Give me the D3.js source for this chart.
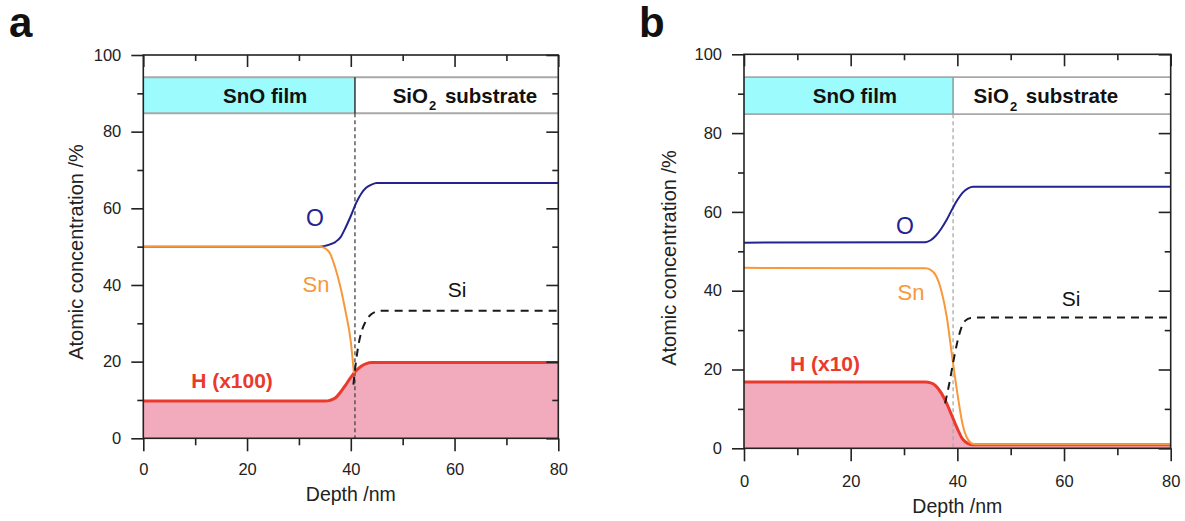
<!DOCTYPE html>
<html>
<head>
<meta charset="utf-8">
<script src="https://cdn.jsdelivr.net/npm/d3@7"></script>
<style>
  html, body { margin: 0; padding: 0; background: #fff; }
  svg { display: block; font-family: "Liberation Sans", Arial, sans-serif; }
</style>
</head>
<body>
<svg id="chart" width="1185" height="521"></svg>
<script>
// ---------------- DATA ----------------
const xTicksMajor = [0, 20, 40, 60, 80];
const xTicksMinor = [10, 30, 50, 70];
const yTicksMajor = [0, 20, 40, 60, 80, 100];
const yTicksMinor = [10, 30, 50, 70, 90];
const bandLabels = ["SnO film", "SiO", "2", " substrate"];
const xTitle = "Depth /nm";
const yTitle = "Atomic concentration /%";

// Panel a
const aInterface = 40.8;
const aO_depth  = [0, 34, 35, 36, 37, 38, 39, 40, 41, 42, 43, 44, 45, 80];
const aO_val    = [50, 50, 50.2, 50.6, 51.2, 52.4, 55, 58, 61.3, 63.8, 65.4, 66.2, 66.6, 66.6];
const aSn_depth = [0, 34, 35, 36, 37, 38, 39, 40, 40.6];
const aSn_val   = [50, 50, 49.6, 48.2, 44.5, 39.5, 33, 25.2, 17];
const aSi_depth = [40.5, 41, 41.5, 42, 43, 44, 45, 46, 80];
const aSi_val   = [14, 20, 24.5, 27.5, 30.8, 32.4, 33.1, 33.3, 33.3];
const aH_depth  = [0, 35, 36, 37, 38, 39, 40, 41, 42, 43, 44, 80];
const aH_val    = [9.7, 9.7, 9.9, 10.5, 12, 13.9, 15.9, 17.6, 18.8, 19.5, 19.8, 19.8];
const aHLabel = "H (x100)";

// Panel b
const bInterface = 39.2;
const bO_depth  = [0, 34, 35, 36, 37, 38, 39, 40, 41, 42, 43, 80];
const bO_val    = [52.2, 52.3, 52.8, 54, 55.8, 58, 60.6, 63, 64.9, 66, 66.4, 66.4];
const bSn_depth = [0, 34, 35, 36, 37, 38, 39, 40, 41, 42, 43, 44, 80];
const bSn_val   = [45.8, 45.7, 45.3, 43.8, 40, 33.5, 23.5, 14, 6, 2.2, 1.1, 1, 1];
const bSi_depth = [37.7, 38.5, 39.3, 40, 40.6, 41.5, 42.5, 44, 80];
const bSi_val   = [11.4, 16.5, 22.4, 27, 30, 32.4, 33.1, 33.2, 33.2];
const bH_depth  = [0, 34, 35, 36, 37, 38, 39, 40, 41, 42, 43, 80];
const bH_val    = [16.8, 16.8, 16.6, 15.8, 14, 11.4, 8.2, 5, 2.3, 1.2, 0.9, 0.9];
const bHLabel = "H (x10)";

// ---------------- DRAW ----------------
const svg = d3.select("#chart");
const zip = (xs, ys) => xs.map((x, i) => ({x, y: ys[i]}));

function panel(cfg) {
  const x = d3.scaleLinear().domain([0, 80]).range([cfg.left, cfg.right]);
  const y = d3.scaleLinear().domain([0, 100]).range([cfg.bottom, cfg.top]);
  const g = svg.append("g");
  const line = d3.line().x(d => x(d.x)).y(d => y(d.y)).curve(d3.curveMonotoneX);
  const area = d3.area().x(d => x(d.x)).y0(y(0)).y1(d => y(d.y)).curve(d3.curveMonotoneX);

  // band
  g.append("rect").attr("x", x(0)).attr("y", y(94.2))
    .attr("width", x(cfg.iface) - x(0)).attr("height", y(84.8) - y(94.2))
    .attr("fill", "#9cfbfd");
  g.append("line").attr("x1", x(0)).attr("x2", x(80)).attr("y1", y(94.2)).attr("y2", y(94.2))
    .attr("stroke", "#a8a8a8").attr("stroke-width", 1.8);
  g.append("line").attr("x1", x(0)).attr("x2", x(80)).attr("y1", y(84.8)).attr("y2", y(84.8))
    .attr("stroke", "#a8a8a8").attr("stroke-width", 1.8);
  g.append("line").attr("x1", x(cfg.iface)).attr("x2", x(cfg.iface)).attr("y1", y(94.2)).attr("y2", y(84.8))
    .attr("stroke", cfg.divColor).attr("stroke-width", 1.5);
  g.append("text").attr("x", x(cfg.filmX)).attr("y", y(89.5)).attr("dy", "0.36em")
    .attr("text-anchor", "middle").attr("font-weight", "bold").attr("font-size", 20.5)
    .attr("fill", "#111").text(bandLabels[0]);
  const st = g.append("text").attr("x", x(cfg.subX)).attr("y", y(89.5)).attr("dy", "0.36em")
    .attr("text-anchor", "middle").attr("font-weight", "bold").attr("font-size", 20.5).attr("fill", "#111");
  st.append("tspan").text(bandLabels[1]);
  st.append("tspan").attr("font-size", 13).attr("dx", 1).attr("dy", "0.6em").text(bandLabels[2]);
  st.append("tspan").attr("dx", 3).attr("dy", "-0.38em").text(bandLabels[3]);

  // H fill
  const hData = zip(cfg.H[0], cfg.H[1]);
  g.append("path").datum(hData).attr("d", area).attr("fill", "#f2abbd");

  // interface dashed line
  g.append("line").attr("x1", x(cfg.iface)).attr("x2", x(cfg.iface))
    .attr("y1", y(84.8)).attr("y2", y(cfg.dashEnd))
    .attr("stroke", cfg.dashColor).attr("stroke-width", 1.3).attr("stroke-dasharray", "4,3");

  // lines
  g.append("path").datum(hData).attr("d", line).attr("fill", "none")
    .attr("stroke", "#ea3a2c").attr("stroke-width", 3);
  g.append("path").datum(zip(cfg.O[0], cfg.O[1])).attr("d", line).attr("fill", "none")
    .attr("stroke", "#23238f").attr("stroke-width", 2);
  g.append("path").datum(zip(cfg.Sn[0], cfg.Sn[1])).attr("d", line).attr("fill", "none")
    .attr("stroke", "#f7983a").attr("stroke-width", 2);
  g.append("path").datum(zip(cfg.Si[0], cfg.Si[1])).attr("d", line).attr("fill", "none")
    .attr("stroke", "#1a1a1a").attr("stroke-width", 2).attr("stroke-dasharray", "8,6");

  // labels
  const lab = (t, p, color, bold, size) => g.append("text").attr("x", p[0]).attr("y", p[1])
    .attr("dy", "0.36em").attr("text-anchor", "middle").attr("fill", color)
    .attr("font-size", size).attr("font-weight", bold ? "bold" : "normal").text(t);
  lab("O", cfg.oPos, "#23238f", false, 23);
  lab("Sn", cfg.snPos, "#f7983a", false, 22);
  lab("Si", cfg.siPos, "#111", false, 21);
  lab(cfg.hLabel, cfg.hPos, "#ea3a2c", true, 21);

  // axes
  const tickStyle = a => {
    a.select(".domain").remove();
    a.selectAll("line").attr("stroke", "#222").attr("stroke-width", 1.6);
    a.selectAll("text").attr("font-size", 16.5).attr("fill", "#222")
      .attr("font-family", "'Liberation Sans', Arial, sans-serif");
  };
  g.append("g").attr("transform", `translate(${x(0)},0)`)
    .call(d3.axisLeft(y).tickValues(yTicksMajor).tickSize(12).tickPadding(10)).call(tickStyle);
  g.append("g").attr("transform", `translate(${x(0)},0)`)
    .call(d3.axisLeft(y).tickValues(yTicksMinor).tickSize(6).tickFormat("")).call(tickStyle);
  g.append("g").attr("transform", `translate(0,${y(0)})`)
    .call(d3.axisBottom(x).tickValues(xTicksMajor).tickSize(13).tickPadding(cfg.xPad)).call(tickStyle);
  g.append("g").attr("transform", `translate(0,${y(0)})`)
    .call(d3.axisBottom(x).tickValues(xTicksMinor).tickSize(7).tickFormat("")).call(tickStyle);
  // inward top/right
  g.append("g").attr("transform", `translate(0,${y(100)})`)
    .call(d3.axisBottom(x).tickValues(xTicksMajor).tickSize(12).tickFormat("")).call(tickStyle);
  g.append("g").attr("transform", `translate(0,${y(100)})`)
    .call(d3.axisBottom(x).tickValues(xTicksMinor).tickSize(6).tickFormat("")).call(tickStyle);
  g.append("g").attr("transform", `translate(${x(80)},0)`)
    .call(d3.axisLeft(y).tickValues(yTicksMajor).tickSize(12).tickFormat("")).call(tickStyle);
  g.append("g").attr("transform", `translate(${x(80)},0)`)
    .call(d3.axisLeft(y).tickValues(yTicksMinor).tickSize(6).tickFormat("")).call(tickStyle);

  // frame
  g.append("rect").attr("x", x(0)).attr("y", y(100)).attr("width", x(80) - x(0))
    .attr("height", y(0) - y(100)).attr("fill", "none").attr("stroke", "#222").attr("stroke-width", 1.6);

  // titles
  g.append("text").attr("x", x(40)).attr("y", cfg.xTitleY).attr("text-anchor", "middle")
    .attr("font-size", 19.5).attr("fill", "#222").text(xTitle);
  g.append("text").attr("transform", `translate(${cfg.yTitleX},${cfg.yTitleY}) rotate(-90)`)
    .attr("text-anchor", "middle").attr("dy", "0.36em")
    .attr("font-size", 20).attr("fill", "#222").text(yTitle);

  // panel letter
  svg.append("text").attr("x", cfg.letter[1]).attr("y", cfg.letter[2])
    .attr("font-size", 42).attr("font-weight", "bold").attr("fill", "#111").text(cfg.letter[0]);
}

panel({
  left: 143.3, right: 558.3, top: 55, bottom: 438.3,
  iface: aInterface, divColor: "#333", dashColor: "#444", dashEnd: 0,
  filmX: 23.5, subX: 62,
  O: [aO_depth, aO_val], Sn: [aSn_depth, aSn_val], Si: [aSi_depth, aSi_val], H: [aH_depth, aH_val],
  oPos: [315, 218], snPos: [316, 284], siPos: [457, 289], hPos: [232, 380], hLabel: aHLabel,
  xPad: 12, xTitleY: 501, yTitleX: 76, yTitleY: 252,
  letter: ["a", 9, 37]
});
panel({
  left: 744, right: 1170.7, top: 54.3, bottom: 448.3,
  iface: bInterface, divColor: "#8a9a9a", dashColor: "#aaa", dashEnd: 0,
  filmX: 20.8, subX: 56.6,
  O: [bO_depth, bO_val], Sn: [bSn_depth, bSn_val], Si: [bSi_depth, bSi_val], H: [bH_depth, bH_val],
  oPos: [905, 226], snPos: [911, 292], siPos: [1071, 298], hPos: [825, 363], hLabel: bHLabel,
  xPad: 14, xTitleY: 513, yTitleX: 669, yTitleY: 258,
  letter: ["b", 639, 37]
});
</script>
</body>
</html>
